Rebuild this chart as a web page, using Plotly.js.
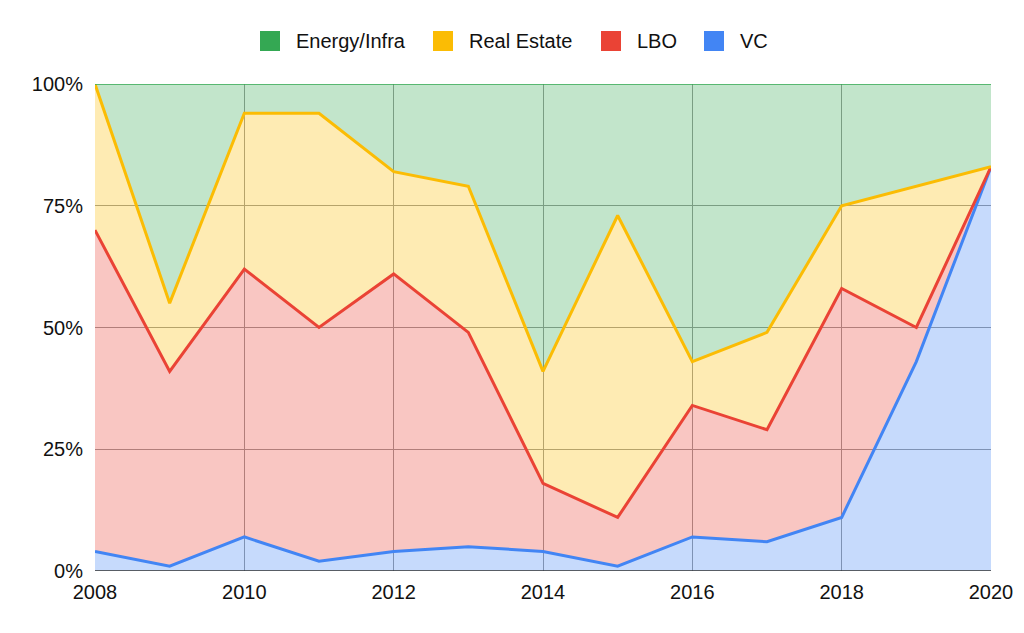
<!DOCTYPE html>
<html>
<head>
<meta charset="utf-8">
<title>Fund mix 2008-2020</title>
<script src="https://cdn.plot.ly/plotly-3.0.1.min.js" charset="utf-8"></script>
<style>
  * { margin: 0; padding: 0; box-sizing: border-box; }
  body { background: #fff; }
  #chart { width: 1024px; height: 633px; }
</style>
</head>
<body>
<div id="chart"></div>
<script>
// years on the x axis
const years = [2008, 2009, 2010, 2011, 2012, 2013, 2014, 2015, 2016, 2017, 2018, 2019, 2020];

// share of each strategy per year, in percent
const vc     = [4, 1, 7, 2, 4, 5, 4, 1, 7, 6, 11, 43, 83];
const lbo    = [66, 40, 55, 48, 57, 44, 14, 10, 27, 23, 47, 7, 0];
const realEst= [30, 14, 32, 44, 21, 30, 23, 62, 9, 20, 17, 29, 0];
const energy = [0, 45, 6, 6, 18, 21, 59, 27, 57, 51, 25, 21, 17];

const seriesNames = ['VC', 'LBO', 'Real Estate', 'Energy/Infra'];
const seriesVals  = [vc, lbo, realEst, energy];
const colors      = ['#4285F4', '#EA4335', '#FBBC04', '#34A853'];
const fills       = ['rgba(66,133,244,0.3)', 'rgba(234,67,53,0.3)', 'rgba(251,188,4,0.3)', 'rgba(52,168,83,0.3)'];

const yTicks  = [0, 25, 50, 75, 100];
const yLabels = ['0%', '25%', '50%', '75%', '100%'];

// plot box in pixels, used to place the hand made legend
const W = 1024, H = 633;
const M = { l: 95, r: 33, t: 84, b: 62 };
const pw = W - M.l - M.r, ph = H - M.t - M.b;
function px(x) { return (x - M.l) / pw; }
function py(y) { return (H - M.b - y) / ph; }

let data = [];
for (let i = 0; i < seriesVals.length; i++) {
    data.push({
        x: years,
        y: seriesVals[i],
        name: seriesNames[i],
        type: 'scatter',
        mode: 'lines',
        stackgroup: 'one',
        line: { color: colors[i], width: i == 3 ? 1.5 : 3 },
        fillcolor: fills[i],
        showlegend: false
    });
}

let font = { family: '"Liberation Sans", Arial, sans-serif', size: 20, color: '#111' };

// legend: square + label, Energy/Infra first
const legendLeft = [260, 433, 601, 704];
let shapes = [];
let annotations = [];
for (let k = 0; k < 4; k++) {
    let i = 3 - k;
    let x0 = legendLeft[k];
    shapes.push({
        type: 'rect', xref: 'paper', yref: 'paper',
        x0: px(x0), x1: px(x0 + 20), y0: py(51), y1: py(31),
        fillcolor: colors[i], line: { width: 0 }
    });
    annotations.push({
        xref: 'paper', yref: 'paper',
        x: px(x0 + 34), y: py(41),
        xanchor: 'left', yanchor: 'middle',
        text: seriesNames[i], showarrow: false,
        font: font
    });
}
// axis line along 0%
shapes.push({
    type: 'line', xref: 'paper', yref: 'y',
    x0: 0, x1: 1, y0: 0, y1: 0,
    line: { color: '#333', width: 1.5 }
});

let layout = {
    width: W,
    height: H,
    margin: M,
    paper_bgcolor: '#fff',
    plot_bgcolor: '#fff',
    font: font,
    showlegend: false,
    xaxis: {
        range: [2008, 2020],
        tickvals: [2008, 2010, 2012, 2014, 2016, 2018, 2020],
        showgrid: true,
        gridcolor: '#999',
        gridwidth: 1,
        zeroline: false,
        showline: false,
        ticks: '',
        ticklabelstandoff: 7,
        tickfont: font
    },
    yaxis: {
        range: [0, 100],
        tickvals: yTicks,
        ticktext: yLabels,
        showgrid: true,
        gridcolor: '#999',
        zeroline: false,
        showline: false,
        ticks: '',
        ticklabelstandoff: 11,
        tickfont: font
    },
    shapes: shapes,
    annotations: annotations
};

Plotly.newPlot('chart', data, layout, { displayModeBar: false, staticPlot: true });
</script>
</body>
</html>
